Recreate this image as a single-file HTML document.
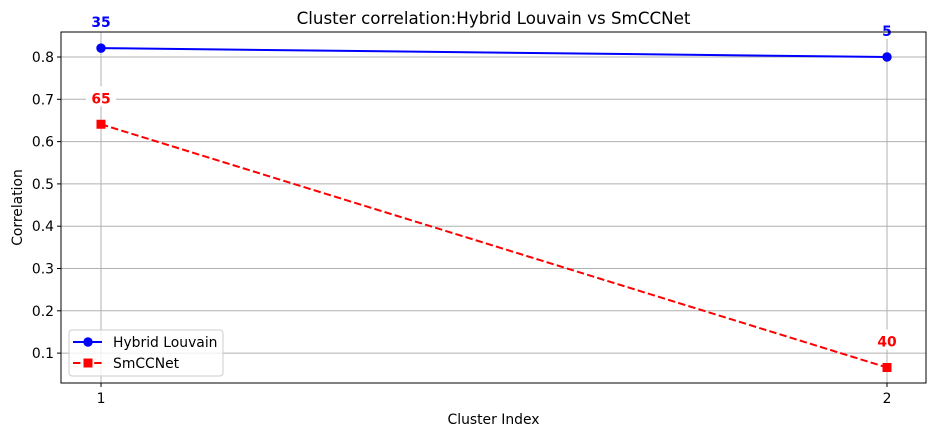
<!DOCTYPE html>
<html><head><meta charset="utf-8"><style>
body{margin:0;background:#fff;}
svg{display:block;font-family:"DejaVu Sans","Liberation Sans",sans-serif;}
</style></head><body>
<svg id="chart" width="936" height="436"></svg>
<script>
const categories=[1,2];
const hybridValues=[0.821,0.800];
const smccValues=[0.641,0.066];
const hybridLabels=["35","5"];
const smccLabels=["65","40"];
const yTicks=[0.1,0.2,0.3,0.4,0.5,0.6,0.7,0.8];

const NS="http://www.w3.org/2000/svg";
const svg=document.getElementById('chart');
const L=61,R=926,T=32,B=383;
const FS=13.9;
const x=v=>101+(v-1)*786;
const y=v=>57+(0.8-v)*423;
function el(tag,attrs,parent){const e=document.createElementNS(NS,tag);for(const k in attrs)e.setAttribute(k,attrs[k]);(parent||svg).appendChild(e);return e;}
function txt(s,attrs,name){const t=el('text',attrs);t.textContent=s;


return t;}

yTicks.forEach(v=>{const g=el('line',{x1:L,x2:R,y1:y(v),y2:y(v),stroke:'#b0b0b0','stroke-width':1});


const tk=el('line',{x1:L-4,x2:L,y1:y(v),y2:y(v),stroke:'#000'});


txt(v.toFixed(1),{x:L-7,y:y(v)+5,'text-anchor':'end','font-size':FS},'y-tick-label');});
categories.forEach(c=>{const g=el('line',{x1:x(c),x2:x(c),y1:T,y2:B,stroke:'#b0b0b0','stroke-width':1});


const tk=el('line',{x1:x(c),x2:x(c),y1:B,y2:B+4,stroke:'#000'});


txt(String(c),{x:x(c),y:B+20,'text-anchor':'middle','font-size':FS},'x-tick-label');});

const hl=el('polyline',{points:categories.map((c,i)=>x(c)+','+y(hybridValues[i])).join(' '),fill:'none',stroke:'#0000ff','stroke-width':2});


const sl=el('polyline',{points:categories.map((c,i)=>x(c)+','+y(smccValues[i])).join(' '),fill:'none',stroke:'#ff0000','stroke-width':2,'stroke-dasharray':'7.4,3.2'});


categories.forEach((c,i)=>{
 const m=el('circle',{cx:x(c),cy:y(hybridValues[i]),r:4.7,fill:'#0000ff'});
 
 
 const s=el('rect',{x:x(c)-4.5,y:y(smccValues[i])-4.5,width:9,height:9,fill:'#ff0000'});
 
 
 [[hybridValues[i],hybridLabels[i],'#0000ff','hybrid-value-label'],[smccValues[i],smccLabels[i],'#ff0000','smccnet-value-label']].forEach(([v,l,col,n])=>{
  const bg=el('rect',{x:x(c)-15,y:y(v)-38,width:30,height:20,fill:'#fff'});
  
  
  txt(l,{x:x(c),y:y(v)-21,'text-anchor':'middle','font-size':FS,'font-weight':'bold',fill:col},n);
 });
});

const fr=el('rect',{x:L,y:T,width:R-L,height:B-T,fill:'none',stroke:'#000','stroke-width':1});



txt('Cluster correlation:Hybrid Louvain vs SmCCNet',{x:(L+R)/2,y:24,'text-anchor':'middle','font-size':16.7},'chart-title');
txt('Cluster Index',{x:(L+R)/2,y:424,'text-anchor':'middle','font-size':FS},'x-axis-title');
txt('Correlation',{x:22,y:(T+B)/2,'text-anchor':'middle','font-size':FS,transform:'rotate(-90 22 '+((T+B)/2)+')'},'y-axis-title');

const lg=el('rect',{x:69,y:330,width:154,height:46,rx:3,fill:'#fff','fill-opacity':0.8,stroke:'#ccc'});


const l1=el('line',{x1:73,x2:102,y1:342,y2:342,stroke:'#0000ff','stroke-width':2});


const c1=el('circle',{cx:88,cy:342,r:4.7,fill:'#0000ff'});


txt('Hybrid Louvain',{x:113,y:347,'font-size':FS},'legend-entry-hybrid');
const l2=el('line',{x1:73,x2:102,y1:363,y2:363,stroke:'#ff0000','stroke-width':2,'stroke-dasharray':'7.4,3.2'});


const s2=el('rect',{x:83.5,y:358.5,width:9,height:9,fill:'#ff0000'});


txt('SmCCNet',{x:113,y:368,'font-size':FS},'legend-entry-smccnet');
</script>
</body></html>
